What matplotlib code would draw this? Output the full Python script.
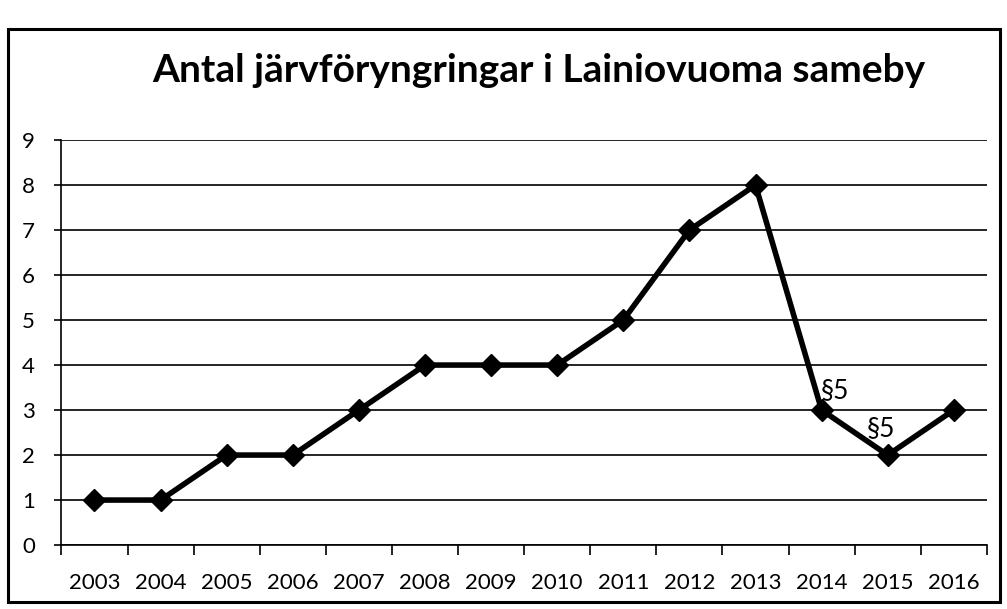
import matplotlib
matplotlib.use("Agg")
import matplotlib.pyplot as plt
from matplotlib.patches import Rectangle

years = ["2003", "2004", "2005", "2006", "2007", "2008", "2009", "2010",
         "2011", "2012", "2013", "2014", "2015", "2016"]
values = [1, 1, 2, 2, 3, 4, 4, 4, 5, 7, 8, 3, 2, 3]
notes = {"2014": "§5", "2015": "§5"}
title = "Antal järvföryngringar i Lainiovuoma sameby"

plt.rcParams['font.family'] = ['Lato', 'DejaVu Sans']

fig = plt.figure(figsize=(10.07, 6.09), dpi=100)
fig.patches.append(Rectangle((0.008, 0.012), 0.985, 0.94, transform=fig.transFigure,
                             fill=False, edgecolor='black', linewidth=2.2))
ax = fig.add_axes([0.061, 0.105, 0.919, 0.665])

x = list(range(len(years)))
ax.plot(x, values, color='black', linewidth=4, marker='D', markersize=11,
        markerfacecolor='black', markeredgecolor='black', zorder=3)
for i, (yr, v) in enumerate(zip(years, values)):
    if yr in notes:
        if yr == "2014":
            ax.text(i - 0.02, v + 0.15, notes[yr], fontsize=19, ha='left', va='bottom')
        else:
            ax.text(i - 0.1, v + 0.3, notes[yr], fontsize=19, ha='center', va='bottom')

ax.set_xlim(-0.5, len(years) - 0.5)
ax.set_ylim(0, 9)
ax.set_yticks(range(0, 10))
ax.yaxis.grid(True, color='black', linewidth=1.2)
ax.set_axisbelow(True)
ax.set_xticks(x)
ax.set_xticklabels(years, fontsize=16)
ax.set_xticks([i - 0.5 for i in range(len(years) + 1)], minor=True)
ax.tick_params(axis='x', which='major', length=0, pad=20)
ax.tick_params(axis='x', which='minor', length=7, width=1.2, direction='out')
ax.tick_params(axis='y', labelsize=16, length=5, width=1.2, pad=14)
for s in ['top', 'right']:
    ax.spines[s].set_visible(False)
ax.spines['left'].set_linewidth(1.2)
ax.spines['bottom'].set_linewidth(1.2)

fig.text(0.535, 0.885, title, fontsize=28, fontweight='bold', ha='center', va='center')

fig.savefig("out.png", dpi=100)
